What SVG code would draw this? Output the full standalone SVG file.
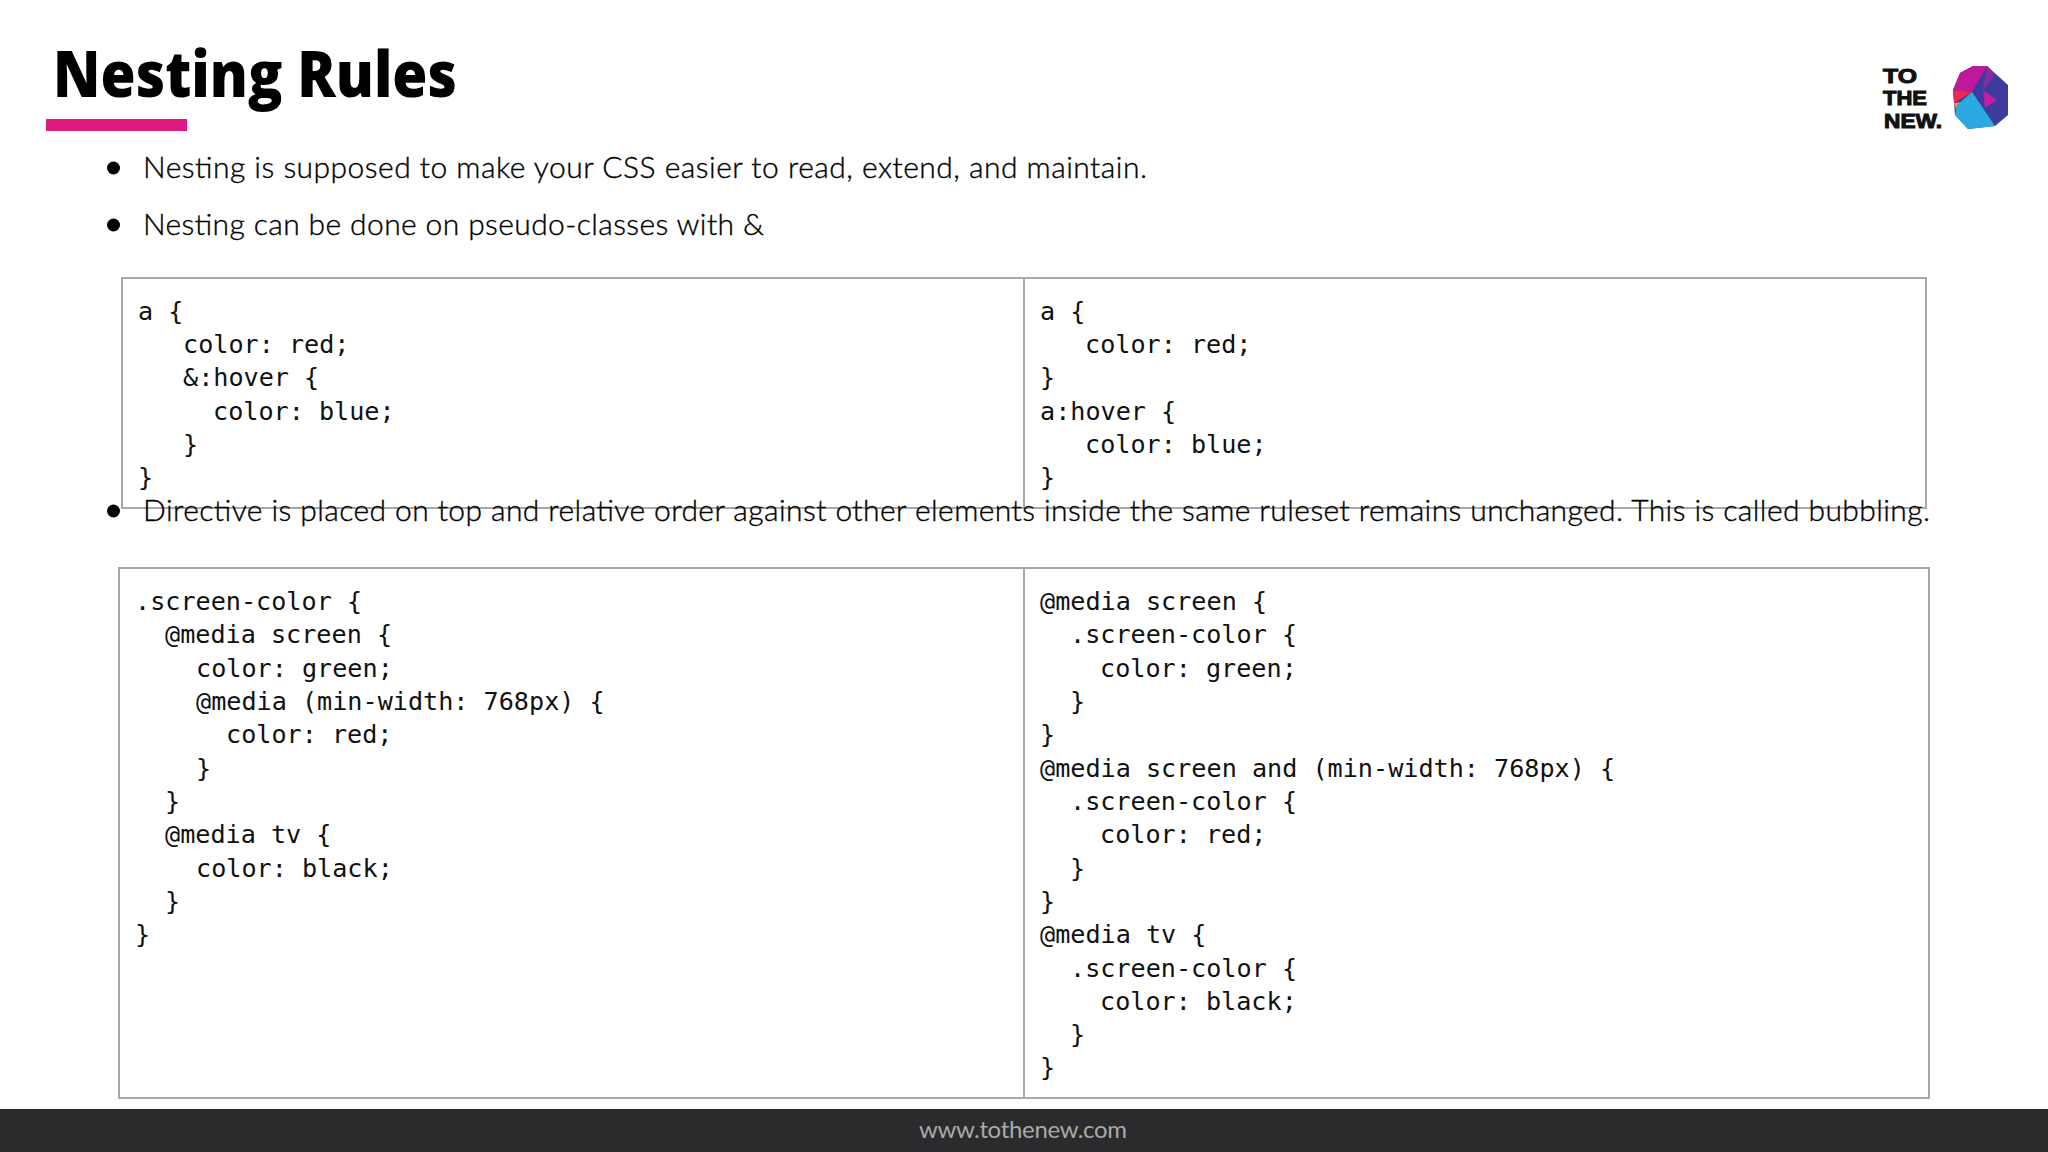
<svg xmlns="http://www.w3.org/2000/svg" width="2048" height="1152" viewBox="0 0 2048 1152">
<style>
.b{font-family:"Lato","Open Sans",sans-serif;font-weight:300;font-size:30px;fill:#000;stroke:#000;stroke-width:.35}
.c{font-family:"DejaVu Sans Mono","Liberation Mono",monospace;font-size:25.15px;fill:#111}
.g{fill:none;stroke:#a8a8a8;stroke-width:2}
.l{font-family:"Liberation Sans",sans-serif;font-weight:700;font-size:19.5px;fill:#111;stroke:#111;stroke-width:1}
</style>
<rect width="2048" height="1152" fill="#fff"/>
<g id="title"><text x="53" y="97" font-family="'Open Sans',Lato,sans-serif" font-weight="800" font-size="63" textLength="404" lengthAdjust="spacingAndGlyphs" fill="#000">Nesting Rules</text><rect x="46" y="119" width="141" height="12" fill="#dd1c82"/></g>
<g id="logo">
<text class="l" x="1883" y="83" textLength="34" lengthAdjust="spacingAndGlyphs">TO</text>
<text class="l" x="1883" y="105" textLength="44" lengthAdjust="spacingAndGlyphs">THE</text>
<text class="l" x="1884" y="128" textLength="58" lengthAdjust="spacingAndGlyphs">NEW.</text>
<polygon points="1973,66 1987,66 2008,85 2008,115 1995,126 1968,129 1955,115 1953,90 1960,73" fill="#3f3a9e"/>
<polygon points="1973,66 1987,66 1972,92 1953,90 1960,73" fill="#c0189a"/>
<polygon points="1953,90 1972,92 1954,103" fill="#ea2a4e"/>
<polygon points="1954,103 1962,102 1957,112" fill="#f59a23"/>
<polygon points="1972,92 1995,126 1968,129 1955,115 1957,105" fill="#29a9e0"/>
<polygon points="1983,90 1997,100 1985,108" fill="#c01f9e"/>
<polygon points="1987,66 1995,74 1983,90" fill="#8a2aa0"/>
</g>
<g id="table1"><rect class="g" x="122" y="278" width="1804" height="230"/><line class="g" x1="1024" y1="278" x2="1024" y2="508"/>
<text class="c" x="138" y="320">a {</text>
<text class="c" x="183" y="353">color: red;</text>
<text class="c" x="183" y="386">&amp;:hover {</text>
<text class="c" x="213" y="420">color: blue;</text>
<text class="c" x="183" y="453">}</text>
<text class="c" x="138" y="486">}</text>
<text class="c" x="1040" y="320">a {</text>
<text class="c" x="1085" y="353">color: red;</text>
<text class="c" x="1040" y="386">}</text>
<text class="c" x="1040" y="420">a:hover {</text>
<text class="c" x="1085" y="453">color: blue;</text>
<text class="c" x="1040" y="486">}</text>
</g>
<g id="bullets">
<circle cx="113.5" cy="168" r="6.5" fill="#000"/><text class="b" x="143" y="178" textLength="1004">Nesting is supposed to make your CSS easier to read, extend, and maintain.</text>
<circle cx="113.5" cy="225" r="6.5" fill="#000"/><text class="b" x="143" y="235" textLength="621">Nesting can be done on pseudo-classes with &amp;</text>
<circle cx="113.5" cy="511" r="6.5" fill="#000"/><text class="b" x="143" y="521" textLength="1787">Directive is placed on top and relative order against other elements inside the same ruleset remains unchanged. This is called bubbling.</text>
</g>
<g id="table2"><rect class="g" x="119" y="568" width="1810" height="530"/><line class="g" x1="1024" y1="568" x2="1024" y2="1098"/>
<text class="c" x="135" y="610">.screen-color {</text>
<text class="c" x="165" y="643">@media screen {</text>
<text class="c" x="196" y="677">color: green;</text>
<text class="c" x="196" y="710">@media (min-width: 768px) {</text>
<text class="c" x="226" y="743">color: red;</text>
<text class="c" x="196" y="777">}</text>
<text class="c" x="165" y="810">}</text>
<text class="c" x="165" y="843">@media tv {</text>
<text class="c" x="196" y="877">color: black;</text>
<text class="c" x="165" y="910">}</text>
<text class="c" x="135" y="943">}</text>
<text class="c" x="1040" y="610">@media screen {</text>
<text class="c" x="1070" y="643">.screen-color {</text>
<text class="c" x="1100" y="677">color: green;</text>
<text class="c" x="1070" y="710">}</text>
<text class="c" x="1040" y="743">}</text>
<text class="c" x="1040" y="777">@media screen and (min-width: 768px) {</text>
<text class="c" x="1070" y="810">.screen-color {</text>
<text class="c" x="1100" y="843">color: red;</text>
<text class="c" x="1070" y="877">}</text>
<text class="c" x="1040" y="910">}</text>
<text class="c" x="1040" y="943">@media tv {</text>
<text class="c" x="1070" y="977">.screen-color {</text>
<text class="c" x="1100" y="1010">color: black;</text>
<text class="c" x="1070" y="1043">}</text>
<text class="c" x="1040" y="1076">}</text>
</g>
<g id="footer"><rect x="0" y="1109" width="2048" height="43" fill="#2b2b2d"/><text x="1023" y="1138" text-anchor="middle" font-family="Lato,sans-serif" font-size="24" textLength="208" fill="#a9a9a9">www.tothenew.com</text></g>
</svg>
